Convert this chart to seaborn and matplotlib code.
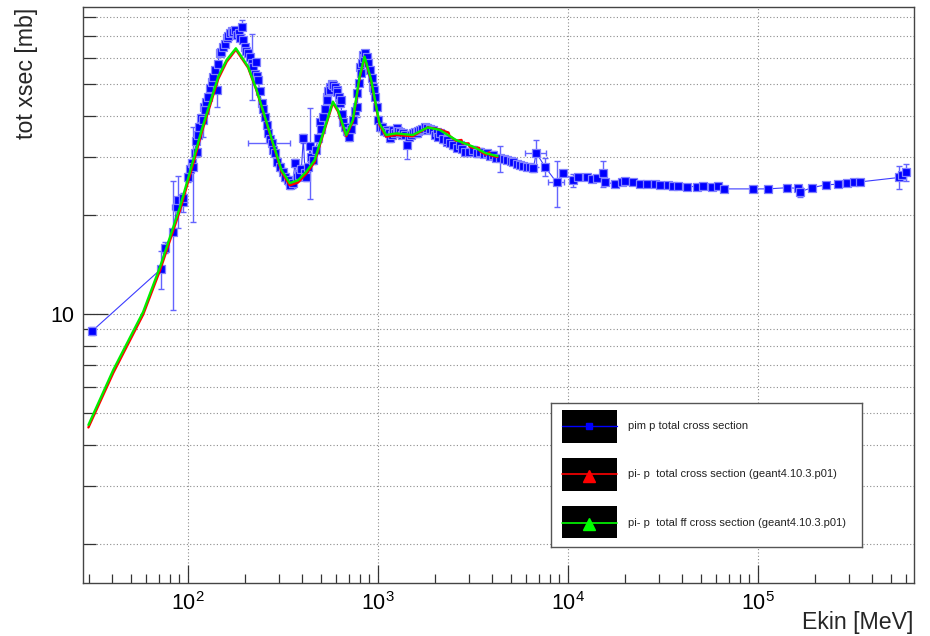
import numpy as np
import pandas as pd
import matplotlib
matplotlib.use("Agg")
import matplotlib.pyplot as plt
from matplotlib import ticker
from matplotlib.patches import Rectangle
import seaborn as sns

# ---------------------------------------------------------------------------
# Measured pi- p total cross section (kinetic energy in MeV, sigma in mb)
# ---------------------------------------------------------------------------
pim_ekin = [
    31.3, 72.1, 75.7, 83.7, 87.2, 88.9, 94.5, 94.5, 104.6, 106.6,
    108.8, 111.1, 114.7, 119.5, 122.9, 127.9, 133.3, 138.7, 141.6, 147.4,
    153.4, 159.8, 166.4, 173.2, 181.8, 191.7, 199.5, 207.7, 216.4, 228.1,
    234.4, 244.3, 254.3, 264.6, 275.8, 287.1, 305.0, 324.0, 344.2, 365.9,
    373.4, 404.5, 412.9, 420.0, 438.6, 456.6, 485.2, 495.3, 515.5, 537.0,
    540.0, 558.9, 562.0, 581.7, 606.2, 610.0, 631.0, 635.0, 656.8, 697.8,
    700.0, 741.3, 772.6, 775.0, 804.0, 810.0, 836.8, 840.0, 872.0, 875.0,
    907.6, 944.7, 948.0, 984.5, 1024.5, 1045.9, 1111, 1115, 1157, 1204,
    1254, 1306, 1359, 1416, 1534, 1598, 1664, 1805, 1810, 1955,
    2037, 2120, 2299, 2305, 2491, 2702, 2871, 3174, 3442, 3734,
    4045, 4387, 4758, 5155, 5589, 6062, 6568, 6811, 7566, 8720,
    9447, 10664, 11330, 12540, 13330, 14160, 15220, 15650, 17680, 19170,
    19950, 21900, 23930, 26150, 28710, 30500, 33720, 35830, 38060, 42150,
    47580, 51550, 57060, 61820, 66230, 94470, 113300, 141600, 163000, 166400,
    191700, 228100, 264600, 293100, 320200, 344300, 554100, 570500, 601100,
]
pim_xsec = [
    8.88, 13.7, 15.9, 17.8, 21.1, 22.2, 21.9, 22.5, 28.7, 28.0,
    30.8, 31.1, 37.0, 38.9, 41.7, 45.8, 50.8, 55.1, 48.0, 62.0,
    64.9, 68.9, 71.3, 72.1, 70.5, 74.7, 64.9, 62.0, 57.8, 58.5,
    51.4, 43.7, 39.8, 35.4, 33.0, 30.8, 28.0, 26.1, 24.7, 28.7,
    26.1, 34.2, 26.8, 26.1, 32.3, 29.4, 34.2, 38.4, 39.8, 45.8,
    44.7, 49.1, 48.0, 49.7, 48.0, 47.4, 43.7, 44.7, 38.4, 35.8,
    34.6, 38.9, 46.9, 42.7, 56.5, 53.9, 61.3, 59.9, 59.2, 60.6,
    55.1, 49.1, 48.0, 42.7, 37.1, 37.1, 36.3, 35.8, 34.2, 36.3,
    36.7, 35.8, 35.4, 32.6, 35.4, 35.4, 36.3, 36.3, 36.7, 36.3,
    35.8, 35.4, 33.4, 33.8, 32.6, 32.6, 31.1, 31.5, 31.1, 30.8,
    30.4, 29.7, 29.4, 29.0, 28.4, 28.0, 27.7, 30.9, 28.0, 25.1,
    26.8, 25.5, 26.0, 26.1, 25.7, 25.9, 26.8, 25.2, 24.8, 25.2,
    25.4, 25.1, 24.8, 24.8, 24.8, 24.6, 24.6, 24.5, 24.5, 24.4,
    24.4, 24.5, 24.4, 24.5, 24.0, 24.0, 24.0, 24.2, 24.1, 23.5,
    24.2, 24.7, 24.8, 25.0, 25.1, 25.2, 26.0, 26.4, 27.0,
]
pim_yerr = [
    0.25, 1.8, 0.6, 7.5, 0.6, 4.0, 1.5, 0.5, 0.8, 9.0,
    0.8, 0.8, 1.0, 4.5, 1.0, 1.0, 1.0, 1.0, 5.5, 1.0,
    1.0, 1.0, 1.0, 1.0, 1.0, 3.5, 1.0, 1.0, 13.0, 1.0,
    1.0, 1.0, 1.0, 1.0, 0.8, 0.8, 0.8, 0.8, 0.8, 0.8,
    0.8, 1.0, 0.8, 0.8, 10.0, 0.8, 0.8, 0.8, 1.0, 1.0,
    1.0, 1.0, 1.0, 1.0, 1.0, 1.0, 1.0, 1.0, 1.0, 1.0,
    1.0, 1.0, 1.0, 3.0, 1.0, 1.0, 1.0, 1.0, 1.0, 1.0,
    1.0, 1.0, 1.0, 1.0, 1.0, 1.0, 0.8, 0.8, 0.8, 0.8,
    0.8, 0.8, 0.8, 3.0, 0.8, 0.8, 0.8, 0.8, 0.8, 0.8,
    0.8, 0.8, 0.8, 0.8, 0.8, 0.8, 0.8, 0.8, 0.8, 0.8,
    0.8, 2.7, 0.6, 0.6, 0.6, 0.6, 0.6, 3.0, 1.7, 4.0,
    0.6, 1.2, 0.5, 0.5, 0.5, 0.5, 2.4, 0.5, 0.5, 0.5,
    0.5, 0.5, 0.4, 0.4, 0.4, 0.4, 0.4, 0.4, 0.4, 0.4,
    0.4, 0.4, 0.4, 0.4, 0.4, 0.4, 0.4, 0.4, 0.4, 0.9,
    0.4, 0.4, 0.4, 0.4, 0.4, 0.4, 2.1, 0.6, 1.6,
]
pim_xerr = [
    0, 0, 0, 0, 5.0, 0, 0, 0, 0, 0,
    0, 0, 0, 0, 0, 0, 0, 0, 0, 0,
    0, 0, 0, 0, 0, 0, 0, 0, 0, 0,
    0, 0, 0, 0, 70.0, 0, 0, 0, 0, 0,
    0, 0, 0, 0, 0, 0, 0, 0, 0, 0,
    0, 0, 0, 0, 0, 0, 0, 0, 0, 0,
    0, 0, 0, 0, 0, 0, 0, 0, 0, 0,
    0, 0, 0, 0, 0, 0, 0, 0, 0, 0,
    0, 0, 0, 0, 0, 0, 0, 0, 0, 0,
    0, 0, 0, 0, 0, 0, 0, 0, 0, 0,
    0, 0, 0, 0, 0, 0, 0, 840.0, 0, 860.0,
    0, 0, 0, 0, 0, 0, 0, 0, 0, 0,
    0, 0, 0, 0, 0, 0, 0, 0, 0, 0,
    0, 0, 0, 0, 0, 0, 0, 0, 0, 0,
    0, 0, 0, 0, 0, 0, 0, 0, 0,
]

# Additional resonance-region measurements (dense scan 100 MeV - 6.3 GeV)
scan_ekin = [
    100, 102, 110, 113, 117, 121, 125, 130, 136, 143,
    150, 156, 163, 170, 177, 185, 188, 195, 203, 212,
    220, 225, 231, 238, 249, 259, 270, 280, 295, 315,
    335, 355, 385, 395, 430, 445, 470, 500, 525, 548,
    570, 595, 620, 645, 670, 685, 720, 755, 790, 820,
    855, 890, 925, 965, 1005, 1070, 1140, 1180, 1230, 1280,
    1330, 1390, 1450, 1500, 1570, 1630, 1700, 1760, 1880, 2000,
    2080, 2200, 2400, 2600, 2780, 3000, 3300, 3600, 3900, 4200,
    4600, 5000, 5400, 5800, 6300,
]
scan_xsec = [
    26.0, 27.5, 33.5, 35.0, 39.5, 42.5, 44.0, 48.5, 52.5, 57.5,
    62.5, 66.0, 70.0, 72.5, 73.0, 71.5, 69.0, 68.0, 63.0, 60.5,
    56.5, 53.5, 53.0, 47.5, 42.0, 37.5, 34.0, 31.5, 29.0, 27.0,
    25.5, 25.0, 26.5, 27.5, 28.0, 30.0, 31.5, 36.5, 42.0, 47.5,
    50.0, 49.0, 45.5, 40.5, 37.0, 36.0, 36.5, 41.5, 50.5, 58.0,
    62.0, 58.0, 52.0, 45.5, 39.0, 36.0, 35.5, 35.0, 35.5, 36.0,
    35.0, 35.0, 34.5, 35.0, 35.8, 36.0, 36.5, 37.0, 36.5, 35.0,
    34.5, 34.0, 33.0, 32.0, 31.8, 31.0, 30.8, 30.6, 30.2, 29.8,
    29.5, 29.2, 28.6, 28.2, 27.9,
]
scan_yerr = [
    0.8, 0.8, 0.8, 0.8, 0.9, 0.9, 0.9, 1.0, 1.0, 1.0,
    1.0, 1.0, 1.0, 1.0, 1.0, 1.0, 1.0, 1.0, 1.0, 1.0,
    1.0, 1.0, 1.0, 1.0, 0.9, 0.9, 0.8, 0.8, 0.8, 0.8,
    0.8, 0.8, 0.8, 0.8, 0.8, 0.8, 0.8, 0.9, 0.9, 1.0,
    1.0, 1.0, 1.0, 0.9, 0.9, 0.9, 0.9, 0.9, 1.0, 1.0,
    1.0, 1.0, 1.0, 0.9, 0.9, 0.8, 0.8, 0.8, 0.8, 0.8,
    0.8, 0.8, 0.8, 0.8, 0.8, 0.8, 0.8, 0.8, 0.8, 0.8,
    0.8, 0.8, 0.7, 0.7, 0.7, 0.7, 0.7, 0.7, 0.7, 0.7,
    0.6, 0.6, 0.6, 0.6, 0.6,
]

# ---------------------------------------------------------------------------
# Geant4 10.3.p01 model curves
# ---------------------------------------------------------------------------
g4_ekin = [
    29.9, 40.4, 58.0, 71.3, 90.8, 106.6, 118.0, 130.5, 144.2, 159.7,
    178.6, 207.3, 229.4, 253.7, 280.4, 310.4, 343.1, 379.3, 419.9, 464.2,
    513.2, 579.0, 615.2, 681.0, 737.4, 799.6, 849.6, 921.0, 1018, 1104,
    1246, 1523, 1826, 2103, 2574, 3146, 3698, 4256,
]
g4_total_ff = [
    4.60, 6.76, 10.14, 13.93, 21.2, 29.4, 36.3, 43.8, 52.6, 59.2,
    64.2, 56.4, 48.0, 39.8, 33.0, 27.4, 25.0, 25.5, 27.1, 29.4,
    35.4, 44.2, 41.7, 35.0, 38.9, 52.6, 60.6, 51.4, 38.0, 35.0,
    35.4, 35.0, 36.9, 36.3, 33.8, 32.3, 30.8, 30.2,
]
g4_total_ekin = [
    29.9, 40.4, 58.0, 71.3, 90.8, 106.6, 118.0, 130.5, 144.2, 159.7,
    178.6, 207.3, 229.4, 253.7, 280.4, 310.4, 343.1, 379.3, 419.9, 464.2,
    513.2, 579.0, 615.2, 681.0, 737.4, 799.6, 849.6, 921.0, 1018, 1104,
    1246, 1523, 1826, 2103, 2350, 2380, 2574, 2750, 2780, 3000,
    3030, 3146, 3400, 3430, 3698, 3850, 3880, 4256,
]
g4_total = [
    4.52, 6.62, 9.95, 13.6, 20.7, 28.7, 35.6, 43.0, 51.8, 58.4,
    63.6, 56.0, 47.8, 39.6, 32.8, 27.1, 24.6, 25.1, 26.7, 29.0,
    35.0, 43.8, 41.3, 34.7, 38.5, 52.0, 60.2, 51.0, 37.6, 34.6,
    35.0, 34.7, 36.9, 36.4, 35.6, 34.8, 33.6, 33.8, 33.0, 33.0,
    32.3, 32.0, 32.0, 31.3, 30.5, 31.0, 30.4, 30.0,
]

yticks_minor = [2, 3, 4, 5, 6, 7, 8, 9, 20, 30, 40, 50, 60, 70, 80]

legend_labels = [
    "pim p total cross section",
    "pi- p  total cross section (geant4.10.3.p01)",
    "pi- p  total ff cross section (geant4.10.3.p01)",
]

# ---------------------------------------------------------------------------
sns.set_style("white")
plt.rcParams["font.family"] = ["Liberation Sans", "DejaVu Sans"]
plt.rcParams["mathtext.fontset"] = "custom"
plt.rcParams["mathtext.rm"] = "Liberation Sans"
plt.rcParams["mathtext.it"] = "Liberation Sans:italic"
plt.rcParams["mathtext.bf"] = "Liberation Sans:bold"

W, H = 930, 636
fig = plt.figure(figsize=(W / 100, H / 100), dpi=100)
ax = fig.add_axes([83.3 / W, 1 - 582.7 / H, (914 - 83.3) / W, (582.7 - 6.7) / H])

data = pd.concat([
    pd.DataFrame({"ekin": pim_ekin, "xsec": pim_xsec,
                  "yerr": pim_yerr, "xerr": pim_xerr}),
    pd.DataFrame({"ekin": scan_ekin, "xsec": scan_xsec,
                  "yerr": scan_yerr, "xerr": [0.0] * len(scan_ekin)}),
], ignore_index=True).sort_values("ekin", kind="stable")

ax.errorbar(data["ekin"], data["xsec"], yerr=data["yerr"], xerr=data["xerr"],
            fmt="none", ecolor="#6464ff", elinewidth=1.0, capsize=2, capthick=1.0,
            zorder=2)
sns.lineplot(data=data, x="ekin", y="xsec", ax=ax, sort=False, estimator=None,
             color="#3c3cff", lw=0.8, zorder=2)
sns.scatterplot(data=data, x="ekin", y="xsec", ax=ax, marker="s", s=34,
                color="#0000ff", edgecolor="#8080ff", linewidth=0.9, zorder=3)

sns.lineplot(x=g4_total_ekin, y=g4_total, ax=ax, estimator=None,
             color="#ff0000", lw=1.7, zorder=4)
sns.lineplot(x=g4_ekin, y=g4_total_ff, ax=ax, estimator=None,
             color="#00ee00", lw=1.7, zorder=5)

ax.set_xscale("log")
ax.set_yscale("log")
ax.set_xlim(28.1, 663000)
ax.set_ylim(1.525, 85.9)

ax.xaxis.set_major_locator(ticker.LogLocator(base=10))
ax.xaxis.set_major_formatter(ticker.LogFormatterSciNotation(base=10))
ax.xaxis.set_minor_locator(ticker.LogLocator(base=10, subs=np.arange(2, 10)))
ax.xaxis.set_minor_formatter(ticker.NullFormatter())
ax.yaxis.set_major_locator(ticker.FixedLocator([10]))
ax.yaxis.set_major_formatter(ticker.FixedFormatter(["10"]))
ax.yaxis.set_minor_locator(ticker.FixedLocator(yticks_minor))
ax.yaxis.set_minor_formatter(ticker.NullFormatter())

ax.tick_params(which="both", direction="in", bottom=True, left=True,
               top=False, right=False, color="#333333", width=0.9,
               labelsize=15.5, labelcolor="black")
ax.tick_params(axis="x", which="major", length=12.7, pad=7)
ax.tick_params(axis="x", which="minor", length=6.2)
ax.tick_params(axis="y", which="major", length=18, pad=6.5)
ax.tick_params(axis="y", which="minor", length=9.6)

grid_kw = dict(color="#8c8c8c", lw=0.8, ls=(0, (1, 2)))
ax.grid(False)
ax.grid(True, which="major", axis="x", **grid_kw)
ax.grid(True, which="both", axis="y", **grid_kw)
ax.set_axisbelow(True)

for sp in ax.spines.values():
    sp.set_visible(True)
    sp.set_color("#444444")
    sp.set_linewidth(1.0)

ax.set_xlabel("")
ax.set_ylabel("")
fig.text(15 / W, 1 - 8 / H, "tot xsec [mb]", rotation=90, ha="left", va="top",
         fontsize=16.7)
fig.text(913.5 / W, 1.5 / H, "Ekin [MeV]", ha="right", va="bottom", fontsize=16.7)

# Legend box with ROOT-style black sample areas
lw_, lh_ = 311.6, 143.4
leg = fig.add_axes([550.7 / W, 1 - 546.7 / H, lw_ / W, lh_ / H], zorder=10)
leg.set_xlim(0, lw_)
leg.set_ylim(lh_, 0)
leg.set_xticks([])
leg.set_yticks([])
leg.set_facecolor("white")
for sp in leg.spines.values():
    sp.set_visible(True)
    sp.set_color("#555555")
    sp.set_linewidth(1.0)

rows = [(6.7, 22.7), (55.0, 71.0), (102.4, 119.4)]
styles = [("#0000ff", "s", 4.0), ("#ff0000", "^", 8.0), ("#00ff00", "^", 8.0)]
for (top, mid), (col, mk, ms), label in zip(rows, styles, legend_labels):
    leg.add_patch(Rectangle((11.6, top), 54.7, 32.7, facecolor="black",
                            edgecolor="none"))
    leg.plot([11.6, 66.3], [mid, mid], color=col, lw=1.2 if mk == "^" else 1.0)
    leg.plot([38.6], [mid + (1.5 if mk == "^" else 0)], marker=mk, ms=ms,
             color=col, mec=col)
    leg.text(77.6, mid, label, va="center", ha="left", fontsize=8,
             color="#222222")

fig.savefig("out.png", dpi=100)
